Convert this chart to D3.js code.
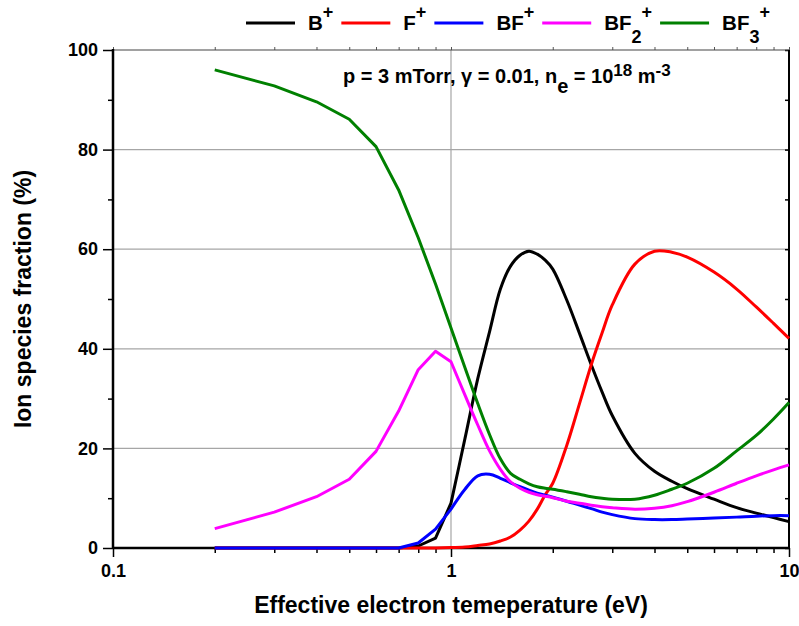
<!DOCTYPE html>
<html>
<head>
<meta charset="utf-8">
<script src="https://cdn.jsdelivr.net/npm/d3@7"></script>
<style>
  html, body { margin: 0; padding: 0; background: #fff; }
  svg { display: block; font-family: "Liberation Sans", Arial, sans-serif; font-weight: bold; }
</style>
</head>
<body>
<svg id="chart" width="799" height="626"></svg>
<script>
// ---- data ----
const temperature = [0.2, 0.3, 0.4, 0.5, 0.6, 0.7, 0.8, 0.9, 1.0, 1.1, 1.2, 1.3, 1.4, 1.5, 1.6, 1.7, 1.8, 1.9, 2.0,
                     2.2, 2.4, 2.6, 2.8, 3.0, 3.5, 4.0, 4.5, 5.0, 6.0, 7.0, 8.0, 9.0, 10.0];
const B_plus   = [0, 0, 0, 0, 0, 0, 0.4, 2.0, 9.0, 22.0, 34.0, 43.4, 52.0, 56.6, 58.8, 59.6, 59.0, 57.8, 56.0,
                  49.8, 43.1, 36.8, 31.3, 26.6, 19.0, 15.4, 13.4, 11.9, 9.8, 8.1, 7.0, 6.1, 5.3];
const F_plus   = [0, 0, 0, 0, 0, 0, 0, 0, 0.1, 0.2, 0.5, 0.8, 1.4, 2.2, 3.6, 5.4, 7.8, 10.7, 13.0,
                  20.6, 29.0, 36.8, 43.2, 48.8, 57.0, 59.6, 59.4, 58.4, 55.4, 52.0, 48.4, 45.1, 42.1];
const BF_plus  = [0, 0, 0, 0, 0, 0, 1.0, 3.8, 7.8, 11.8, 14.5, 14.8, 14.0, 13.1, 12.3, 11.6, 11.0, 10.6, 10.2,
                  9.4, 8.6, 7.9, 7.2, 6.7, 5.9, 5.7, 5.7, 5.8, 6.0, 6.2, 6.4, 6.5, 6.5];
const BF2_plus = [3.9, 7.2, 10.3, 13.8, 19.4, 27.5, 35.8, 39.5, 37.4, 30.7, 24.7, 19.5, 15.8, 13.3, 12.0, 11.2, 10.7, 10.4, 10.1,
                  9.4, 9.0, 8.6, 8.3, 8.1, 7.8, 8.0, 8.5, 9.3, 11.2, 13.0, 14.5, 15.7, 16.7];
const BF3_plus = [96.0, 92.8, 89.6, 86.1, 80.6, 71.9, 62.3, 53.0, 44.2, 36.2, 29.0, 22.8, 17.9, 15.0, 13.8, 12.9, 12.3, 12.0, 11.8,
                  11.3, 10.8, 10.3, 10.0, 9.8, 9.8, 10.6, 11.8, 13.0, 16.0, 19.5, 22.6, 25.9, 29.2];

const seriesNames  = ["B", "F", "BF", "BF2", "BF3"];
const seriesColors = ["#000000", "#ff0000", "#0000ff", "#ff00ff", "#008000"];
const seriesValues = [B_plus, F_plus, BF_plus, BF2_plus, BF3_plus];

const xTickLabels = [0.1, 1, 10];
const yTickLabels = [0, 20, 40, 60, 80, 100];
const yGrid = [20, 40, 60, 80];
const xGrid = [1];

const xTitle = "Effective electron temeperature (eV)";
const yTitle = "Ion species fraction (%)";

// ---- layout ----
const W = 799, H = 626;
const m = { left: 113, right: 10, top: 50, bottom: 78 };
const svg = d3.select("#chart");

const x = d3.scaleLog().domain([0.1, 10]).range([m.left, W - m.right]);
const y = d3.scaleLinear().domain([0, 100]).range([H - m.bottom, m.top]);
const x0 = x.range()[0], x1 = x.range()[1], y0 = y.range()[0], y1 = y.range()[1];
const FONT = "Liberation Sans, Arial, sans-serif";

// grid
svg.append("g").selectAll("line").data(yGrid).join("line")
  .attr("x1", x0).attr("x2", x1).attr("y1", d => y(d)).attr("y2", d => y(d))
  .attr("stroke", "#a6a6a6").attr("stroke-width", 1.2);
svg.append("g").selectAll("line").data(xGrid).join("line")
  .attr("x1", d => x(d)).attr("x2", d => x(d)).attr("y1", y0).attr("y2", y1)
  .attr("stroke", "#a6a6a6").attr("stroke-width", 1.2);

// minor tick values
const xMinor = d3.range(1, 10).map(k => k * 0.1).concat(d3.range(1, 10)).concat([10]);
const yMinor = d3.range(0, 101, 10);
const isMajorX = d => xTickLabels.includes(+d.toFixed(3));

// bottom axis
const bottomAxis = d3.axisBottom(x)
  .tickValues(xMinor)
  .tickSizeInner(5).tickSizeOuter(0)
  .tickFormat(d => isMajorX(d) ? d3.format("~g")(+d.toFixed(3)) : "");
const gB = svg.append("g").attr("transform", `translate(0,${y0})`).call(bottomAxis);
gB.selectAll(".tick line").attr("y2", d => isMajorX(d) ? 9 : 5).attr("stroke-width", 1.5);
gB.selectAll(".tick text").attr("font-size", 18).attr("font-weight", "bold")
  .attr("font-family", FONT).attr("fill", "#000").attr("y", 16);
gB.select(".domain").remove();

// left axis
const leftAxis = d3.axisLeft(y)
  .tickValues(yMinor)
  .tickSizeInner(5).tickSizeOuter(0)
  .tickFormat(d => yTickLabels.includes(d) ? d : "");
const gL = svg.append("g").attr("transform", `translate(${x0},0)`).call(leftAxis);
gL.selectAll(".tick line").attr("x2", d => yTickLabels.includes(d) ? -10 : -5).attr("stroke-width", 1.5);
gL.selectAll(".tick text").attr("font-size", 18).attr("font-weight", "bold")
  .attr("font-family", FONT).attr("fill", "#000").attr("x", -15);
gL.select(".domain").remove();

// top axis ticks (outward, short)
const topAxis = d3.axisTop(x).tickValues(xMinor).tickSizeInner(3).tickSizeOuter(0).tickFormat("");
const gT = svg.append("g").attr("transform", `translate(0,${y1})`).call(topAxis);
gT.select(".domain").remove();
gT.selectAll(".tick line").attr("stroke", "#555");

// right axis ticks (inward)
const rightAxis = d3.axisLeft(y).tickValues(yMinor).tickSizeInner(4).tickSizeOuter(0).tickFormat("");
const gR = svg.append("g").attr("transform", `translate(${x1},0)`).call(rightAxis);
gR.select(".domain").remove();
gR.selectAll(".tick line").attr("stroke-width", 1.5);

// frame
svg.append("line").attr("x1", x0).attr("x2", x1).attr("y1", y1).attr("y2", y1).attr("stroke", "#444").attr("stroke-width", 1.2);
svg.append("line").attr("x1", x1).attr("x2", x1).attr("y1", y1).attr("y2", y0).attr("stroke", "#000").attr("stroke-width", 2);
svg.append("line").attr("x1", x0).attr("x2", x1 + 1).attr("y1", y0).attr("y2", y0).attr("stroke", "#000").attr("stroke-width", 2.5);
svg.append("line").attr("x1", x0).attr("x2", x0).attr("y1", y1 - 1).attr("y2", y0 + 1).attr("stroke", "#000").attr("stroke-width", 2.5);

// lines: coarse part (T <= 1 eV) drawn straight, finer part smoothed
const splitIdx = temperature.indexOf(1.0);
const coarseLine = d3.line().x(d => x(d[0])).y(d => y(d[1])).curve(d3.curveLinear);
const fineLine = d3.line().x(d => x(d[0])).y(d => y(d[1])).curve(d3.curveCatmullRom.alpha(0.5));
const gLines = svg.append("g");
seriesValues.forEach((vals, i) => {
  const pts = temperature.map((t, k) => [t, vals[k]]);
  gLines.append("path")
    .attr("d", coarseLine(pts.slice(0, splitIdx + 1)) + "L" + fineLine(pts.slice(splitIdx)).slice(1))
    .attr("fill", "none")
    .attr("stroke", seriesColors[i])
    .attr("stroke-width", 3)
    .attr("stroke-linejoin", "round");
});

// axis titles
svg.append("text").attr("x", (x0 + x1) / 2).attr("y", 613).attr("text-anchor", "middle")
  .attr("font-size", 23).text(xTitle);
svg.append("text").attr("transform", `translate(31,${(y0 + y1) / 2}) rotate(-90)`).attr("text-anchor", "middle")
  .attr("font-size", 23).text(yTitle);

// annotation
const ann = svg.append("text").attr("x", 343).attr("y", 83).attr("font-size", 20);
ann.append("tspan").text("p = 3 mTorr, \u03b3 = 0.01, n");
ann.append("tspan").attr("dy", 10).text("e");
ann.append("tspan").attr("dy", -10).text(" = 10");
ann.append("tspan").attr("dy", -7).attr("font-size", 17).text("18");
ann.append("tspan").attr("dy", 7).text(" m");
ann.append("tspan").attr("dy", -7).attr("font-size", 17).text("-3");

// legend
const legend = svg.append("g");
let lx = 246;
const ly = 23;
seriesNames.forEach((name, i) => {
  legend.append("line").attr("x1", lx).attr("x2", lx + 49).attr("y1", ly).attr("y2", ly)
    .attr("stroke", seriesColors[i]).attr("stroke-width", 3);
  const t = legend.append("text").attr("x", lx + 62).attr("y", 30).attr("font-size", 20.5);
  const m2 = name.match(/^([A-Z]+)(\d?)$/);
  t.append("tspan").text(m2[1]);
  if (m2[2]) {
    t.append("tspan").attr("dy", 13).attr("font-size", 18).text(m2[2]);
    t.append("tspan").attr("dy", -25).attr("font-size", 18).text("+");
  } else {
    t.append("tspan").attr("dy", -12).attr("font-size", 18).text("+");
  }
  lx = lx + 62 + t.node().getComputedTextLength() + 8;
});
</script>
</body>
</html>
